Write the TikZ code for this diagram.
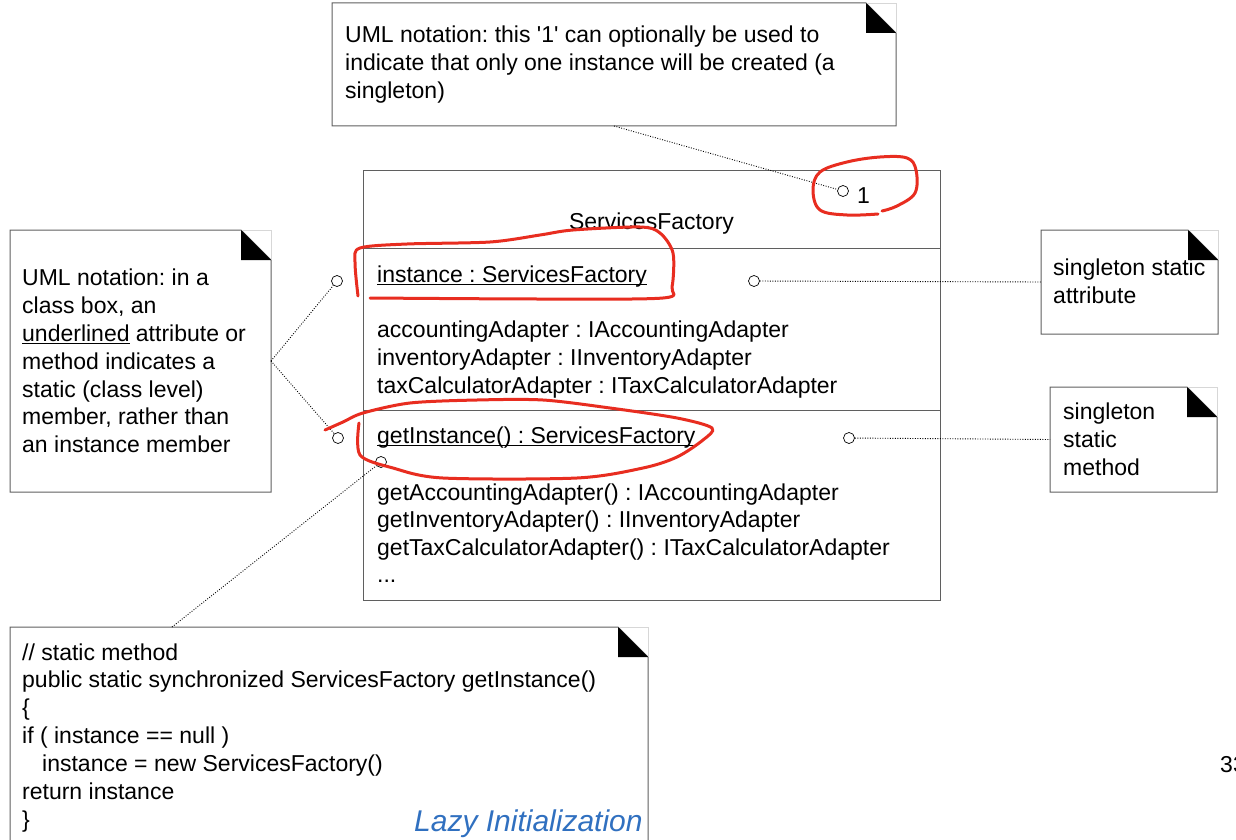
\documentclass[tikz,border=0pt]{standalone}
\usepackage{fontspec}
\setmainfont{Liberation Sans}
\newfontfamily\helv{Liberation Sans}
\usetikzlibrary{calc}
\frenchspacing
\newcommand\ulinetxt[1]{\setbox0\hbox{#1}\rlap{\rule[-2.6pt]{\wd0}{0.9pt}}\box0\relax}
\definecolor{framegray}{RGB}{95,95,95}
\definecolor{faintgray}{RGB}{215,215,215}
\definecolor{markred}{RGB}{232,45,32}
\definecolor{lazyblue}{RGB}{48,112,192}
\newcommand\noteframe[1]{%
  \draw[frame] (#1.north west) -- ([xshift=-30pt]#1.north east) -- ([yshift=-30pt]#1.north east) -- (#1.south east) -- (#1.south west) -- cycle;
  \draw[faint] ([xshift=-30pt]#1.north east) -- (#1.north east) -- ([yshift=-30pt]#1.north east);
  \fill ([xshift=-30pt]#1.north east) -- ([xshift=-30pt,yshift=-30pt]#1.north east) -- ([yshift=-30pt]#1.north east) -- cycle;
}
\begin{document}
\begin{tikzpicture}[x=1pt,y=-1pt,
  txt/.style={anchor=base west,inner sep=0pt,font=\helv\frenchspacing\fontsize{23}{28}\selectfont},
  frame/.style={draw=framegray,line width=1pt},
  box/.style={rectangle,anchor=north west,inner sep=0pt,outer sep=0pt,fill=white},
  faint/.style={draw=faintgray,line width=0.8pt},
  link/.style={line width=0.9pt,dash pattern=on 0.9pt off 1.6pt},
  pin/.style={circle,draw=black,line width=0.7pt,fill=white,minimum size=11pt,inner sep=0pt},
  redmark/.style={draw=markred,line width=3pt,line cap=round,line join=round}
]
\path[use as bounding box] (0,0) rectangle (1236,840);
\clip (0,0) rectangle (1236,840);

% ---------- class box ----------
\node[box,frame,minimum width=577pt,minimum height=430pt] (cls) at (363,170) {};
\draw[frame] (363,248) -- (940,248);
\draw[frame] (363,410) -- (940,410);
\node[txt,anchor=base] (clsname) at (651.5,229) {ServicesFactory};
\node[txt] (mult) at (857,203) {1};
\node[txt] (a0) at (377,282) {\ulinetxt{instance : ServicesFactory}};
\node[txt] (a1) at (377,337) {accountingAdapter : IAccountingAdapter};
\node[txt] (a2) at (377,365) {inventoryAdapter : IInventoryAdapter};
\node[txt] (a3) at (377,393) {taxCalculatorAdapter : ITaxCalculatorAdapter};
\node[txt] (m0) at (377,443) {\ulinetxt{getInstance() : ServicesFactory}};
\node[txt] (m1) at (377,500) {getAccountingAdapter() : IAccountingAdapter};
\node[txt] (m2) at (377,527) {getInventoryAdapter() : IInventoryAdapter};
\node[txt] (m3) at (377,555) {getTaxCalculatorAdapter() : ITaxCalculatorAdapter};
\node[txt] (m4) at (377,582) {...};

% ---------- notes ----------
\node[box,minimum width=564pt,minimum height=123pt] (topnote) at (332,3) {};
\noteframe{topnote}
\node[txt] (t1) at (345,43) {UML notation: this '1' can optionally be used to};
\node[txt] (t2) at (345,71) {indicate that only one instance will be created (a};
\node[txt] (t3) at (345,99) {singleton)};

\node[box,minimum width=261pt,minimum height=262pt] (leftnote) at (10,230) {};
\noteframe{leftnote}
\node[txt] (l1) at (22,285) {UML notation: in a};
\node[txt] (l2) at (22,313) {class box, an};
\node[txt] (l3) at (22,341) {\ulinetxt{underlined} attribute or};
\node[txt] (l4) at (22,369) {method indicates a};
\node[txt] (l5) at (22,397) {static (class level)};
\node[txt] (l6) at (22,424) {member, rather than};
\node[txt] (l7) at (22,452) {an instance member};

\node[box,minimum width=638pt,minimum height=230pt] (codenote) at (10,627) {};
\noteframe{codenote}
\node[txt] (c1) at (22,660) {// static method};
\node[txt] (c2) at (22,687) {public static synchronized ServicesFactory getInstance()};
\node[txt] (c3) at (22,715) {\{};
\node[txt] (c4) at (22,743) {if ( instance == null )};
\node[txt] (c5) at (42,771) {instance = new ServicesFactory()};
\node[txt] (c6) at (22,799) {return instance};
\node[txt] (c7) at (22,827) {\}};
\node[anchor=base west,inner sep=0pt,text=lazyblue,font=\helv\itshape\fontsize{30}{36}\selectfont] (lazy) at (414,831) {Lazy Initialization};

\node[box,minimum width=177pt,minimum height=104pt] (attrnote) at (1041,230) {};
\noteframe{attrnote}
\node[txt] (r1) at (1053,275) {singleton static};
\node[txt] (r2) at (1053,303) {attribute};

\node[box,minimum width=167pt,minimum height=105pt] (methnote) at (1050,387) {};
\noteframe{methnote}
\node[txt] (s1) at (1063,419) {singleton};
\node[txt] (s2) at (1063,447) {static};
\node[txt] (s3) at (1063,475) {method};

\node[txt] (pageno) at (1220,772) {33};

% ---------- connectors ----------
\node[pin] (pin1) at (843,191) {};
\node[pin] (pinA) at (337,281) {};
\node[pin] (pinB) at (338,438) {};
\node[pin] (pinC) at (381,462) {};
\node[pin] (pinD) at (754,281) {};
\node[pin] (pinE) at (849,438) {};
\coordinate (codetop) at (172,627);
\draw[link] (topnote.south) -- (pin1);
\draw[link] (leftnote.east) -- (pinA);
\draw[link] (leftnote.east) -- (pinB);
\draw[link] (codetop) -- (pinC);
\draw[link] (pinD) -- (attrnote.west);
\draw[link] (pinE) -- (methnote.west);

% ---------- red hand marks ----------
\draw[redmark] plot[smooth,tension=0.6] coordinates {(882,211) (897,206) (915,193) (916,170) (907,158) (880,157) (847,162) (820,172) (813,190) (820,210) (847,215) (878,214)};
\draw[redmark] plot[smooth,tension=0.5] coordinates {(358,296) (355,262) (360,248) (407,244) (490,242) (540,235) (573,230) (640,227) (660,233) (673,253) (672,287) (663,298) (540,299) (370,298)};
\draw[redmark] plot[smooth,tension=0.5] coordinates {(325,430) (343,422) (363,413) (410,403) (477,400) (543,400) (610,408) (677,418) (712,428) (703,440) (677,457) (643,468) (577,478) (443,478) (393,468) (360,455) (359,423)};
\end{tikzpicture}
\end{document}
